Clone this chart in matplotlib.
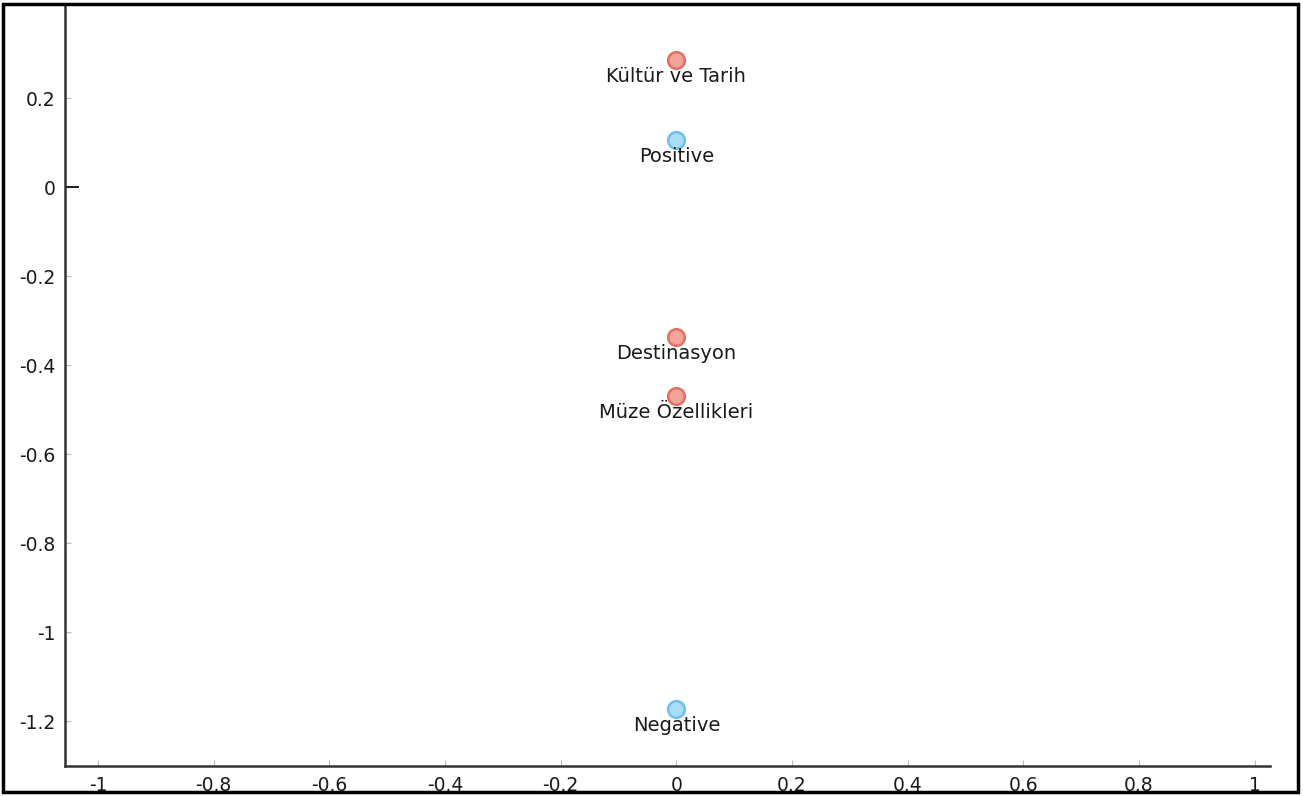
import matplotlib.pyplot as plt
from matplotlib.patches import Rectangle

# Points
labels = ['Kültür ve Tarih', 'Positive', 'Destinasyon', 'Müze Özellikleri', 'Negative']
x_vals = [0, 0, 0, 0, 0]
y_vals = [0.285, 0.106, -0.337, -0.470, -1.173]
groups = ['topic', 'sentiment', 'topic', 'topic', 'sentiment']

x_ticks = [-1, -0.8, -0.6, -0.4, -0.2, 0, 0.2, 0.4, 0.6, 0.8, 1]
x_tick_labels = ['-1', '-0.8', '-0.6', '-0.4', '-0.2', '0', '0.2', '0.4', '0.6', '0.8', '1']
y_ticks = [0.2, 0, -0.2, -0.4, -0.6, -0.8, -1, -1.2]
y_tick_labels = ['0.2', '0', '-0.2', '-0.4', '-0.6', '-0.8', '-1', '-1.2']

colors = {
    'topic': ('#f4a39b', '#e0705f'),
    'sentiment': ('#a9dcf7', '#6ec0ea'),
}

plt.rcParams['font.family'] = ['DejaVu Sans']

fig = plt.figure(figsize=(13.03, 7.96), dpi=100)
ax = fig.add_axes([0.0499, 0.0377, 0.925, 0.956])

for x, y, lab, g in zip(x_vals, y_vals, labels, groups):
    face, edge = colors[g]
    ax.plot(x, y, 'o', ms=12, mfc=face, mec=edge, mew=1.8, zorder=3)
    ax.annotate(lab, (x, y), xytext=(0, -5), textcoords='offset points',
                ha='center', va='top', fontsize=14, color='#1a1a1a')

ax.set_xlim(-1.057, 1.027)
ax.set_ylim(-1.301, 0.409)
ax.set_xticks(x_ticks)
ax.set_xticklabels(x_tick_labels)
ax.set_yticks(y_ticks)
ax.set_yticklabels(y_tick_labels)
ax.tick_params(direction='in', length=4, color='#bbbbbb', labelsize=13.5,
               labelcolor='#1a1a1a', pad=7)

# the zero tick on the y axis is drawn darker and longer
zero_tick = ax.yaxis.get_major_ticks()[y_ticks.index(0)]
zero_tick.tick1line.set_markeredgecolor('#222222')
zero_tick.tick1line.set_markersize(10)
zero_tick.tick1line.set_markeredgewidth(1.5)

for side in ['top', 'right']:
    ax.spines[side].set_visible(False)
for side in ['left', 'bottom']:
    ax.spines[side].set_color('#333333')
    ax.spines[side].set_linewidth(1.8)

# outer frame around the whole picture
fig.patches.append(Rectangle((0.002, 0.005), 0.994, 0.99, transform=fig.transFigure,
                             fill=False, edgecolor='black', linewidth=2.5))

fig.savefig('out.png', dpi=100)
